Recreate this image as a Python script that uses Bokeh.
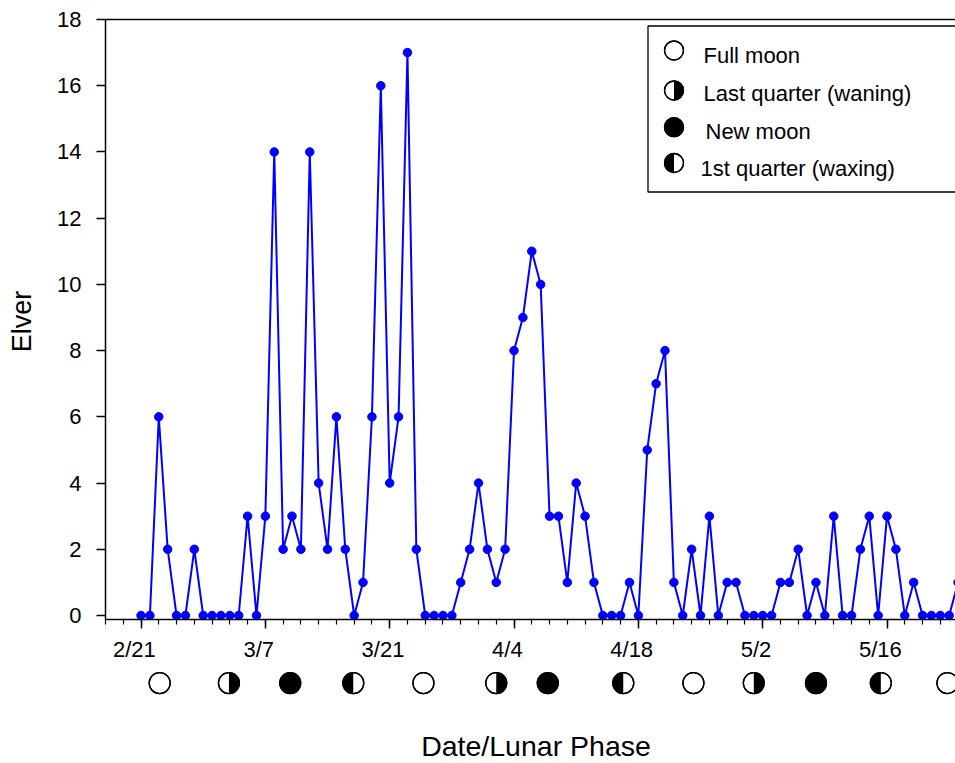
from bokeh.plotting import figure
from bokeh.models import Range1d, LinearAxis, FixedTicker, Label
from bokeh.core.properties import value
from bokeh.embed import file_html
from bokeh.resources import INLINE
import math

# daily elver counts, first value is 2/21
elver = [0, 0, 6, 2, 0, 0, 2, 0, 0, 0,
         0, 0, 3, 0, 3, 14, 2, 3, 2, 14,
         4, 2, 6, 2, 0, 1, 6, 16, 4, 6,
         17, 2, 0, 0, 0, 0, 1, 2, 4, 2,
         1, 2, 8, 9, 11, 10, 3, 3, 1, 4,
         3, 1, 0, 0, 0, 1, 0, 5, 7, 8,
         1, 0, 2, 0, 3, 0, 1, 1, 0, 0,
         0, 0, 1, 1, 2, 0, 1, 0, 3, 0,
         0, 2, 3, 0, 3, 2, 0, 1, 0, 0,
         0, 0, 1]
day = list(range(len(elver)))  # days since 2/21

date_ticks = [0, 14, 28, 42, 56, 70, 84]
date_labels = ["2/21", "3/7", "3/21", "4/4", "4/18", "5/2", "5/16"]

# lunar phases (days since 2/21)
moon_day = [2.1, 9.9, 16.8, 23.9, 31.8, 40.0, 45.8, 54.3, 62.2, 69.0, 76.0, 83.3, 90.8]
moon_phase = ["full", "last", "new", "first", "full", "last", "new", "first",
              "full", "last", "new", "first", "full"]

legend_phase = ["full", "last", "new", "first"]
legend_label = ["Full moon", "Last quarter (waning)", "New moon", "1st quarter (waxing)"]

FONT = "Liberation Sans"
W, H = 955, 763
AXIS_X, TOP = 105, 19        # pixel position of the y axis and of the top line
X0, X1 = -4, 91.71           # day range of the plotted area
Y_TOP, Y_ZERO_PX = 18, 615   # top of y axis, pixel row of zero
PX_PER_DAY = (W - AXIS_X) / (X1 - X0)
PX_PER_UNIT = (Y_ZERO_PX - TOP) / Y_TOP
Y_AXIS_AT = -0.12            # x axis sits just under zero
MOON_ROW = -2.04
LABEL_SHIFT = 0.75           # date labels sit a little left of their ticks

# frame covers the whole canvas so the axes can be placed inside it
p = figure(width=W, height=H, output_backend="svg", toolbar_location=None,
           x_range=Range1d(X0 - AXIS_X / PX_PER_DAY, X1),
           y_range=Range1d(-(H - Y_ZERO_PX) / PX_PER_UNIT, Y_TOP + TOP / PX_PER_UNIT),
           x_axis_location=None, y_axis_location=None,
           min_border_left=0, min_border_top=0, min_border_right=0, min_border_bottom=0)
p.extra_x_ranges = {"px": Range1d(-AXIS_X, W - AXIS_X)}
p.extra_y_ranges = {"px": Range1d(H - TOP, -TOP)}
p.grid.visible = False
p.outline_line_color = None

# y axis
ya = LinearAxis(fixed_location=X0)
ya.bounds = (Y_AXIS_AT, Y_TOP)
ya.ticker = FixedTicker(ticks=list(range(0, 19, 2)), minor_ticks=[])
ya.major_label_text_font = FONT
ya.major_label_text_font_size = "22px"
ya.major_label_text_color = "black"
ya.major_label_standoff = 15
ya.major_tick_out = 9
ya.major_tick_in = 0
ya.minor_tick_line_color = None
ya.axis_line_width = 1.5
ya.major_tick_line_width = 1.5
p.add_layout(ya, "left")

# x axis line and ticks
xa = LinearAxis(fixed_location=Y_AXIS_AT)
xa.bounds = (X0, X1)
xa.ticker = FixedTicker(ticks=date_ticks, minor_ticks=list(range(-4, 92, 2)))
xa.major_label_text_color = None
xa.major_tick_out = 9
xa.major_tick_in = 0
xa.minor_tick_out = 5
xa.minor_tick_in = 0
xa.axis_line_width = 1.5
xa.major_tick_line_width = 1.5
xa.minor_tick_line_width = 1.2
p.add_layout(xa, "below")

# date labels
label_pos = [t - LABEL_SHIFT for t in date_ticks]
xl = LinearAxis(fixed_location=Y_AXIS_AT)
xl.bounds = (X0, X1)
xl.ticker = FixedTicker(ticks=label_pos, minor_ticks=[])
xl.major_label_overrides = dict(zip(label_pos, date_labels))
xl.axis_line_color = None
xl.major_tick_line_color = None
xl.minor_tick_line_color = None
xl.major_tick_out = 9
xl.major_tick_in = 0
xl.minor_tick_out = 0
xl.major_label_text_font = FONT
xl.major_label_text_font_size = "22px"
xl.major_label_text_color = "black"
xl.major_label_standoff = 9
p.add_layout(xl, "below")

# top border line
xt = LinearAxis(fixed_location=Y_TOP)
xt.bounds = (X0, X1 + 2)
xt.ticker = FixedTicker(ticks=[], minor_ticks=[])
xt.major_label_text_color = None
xt.major_tick_line_color = None
xt.minor_tick_line_color = None
xt.axis_line_width = 1.5
p.add_layout(xt, "above")

# axis titles (screen units are measured from the frame's bottom-left)
p.add_layout(Label(x=21, y=H - 321, x_units="screen", y_units="screen", text="Elver",
                   angle=math.pi / 2, text_font=FONT, text_font_size="27px",
                   text_color="black", text_align="center", text_baseline="middle"))
p.add_layout(Label(x=535.5, y=H - 745, x_units="screen", y_units="screen",
                   text="Date/Lunar Phase", text_font=FONT, text_font_size="28.5px",
                   text_color="black", text_align="center", text_baseline="middle"))

# data
p.line(day, elver, line_color="#0000ff", line_width=2)
p.scatter(day, elver, size=8.5, fill_color="#0000ff", line_color="#0000ff")


def draw_moons(xs, ys, phases, r, **rng):
    fills = ["black" if ph == "new" else "white" for ph in phases]
    p.scatter(xs, ys, size=2 * r, marker="circle", fill_color=fills,
              line_color="black", line_width=1.3, **rng)
    for ph, a0, a1 in (("last", -math.pi / 2, math.pi / 2),
                       ("first", math.pi / 2, 3 * math.pi / 2)):
        wx = [x for x, q in zip(xs, phases) if q == ph]
        wy = [y for y, q in zip(ys, phases) if q == ph]
        p.wedge(wx, wy, radius=r, radius_units="screen", start_angle=a0,
                end_angle=a1, fill_color="black", line_color=None, **rng)
    p.scatter(xs, ys, size=2 * r, marker="circle", fill_color=None,
              line_color="black", line_width=1.3, **rng)


draw_moons(moon_day, [MOON_ROW] * len(moon_day), moon_phase, 10.5)

# legend box, drawn in pixels from the axes corner
p.quad(left=542.5, right=900, top=6.5, bottom=172.5, fill_color="white",
       line_color="black", line_width=1.3, x_range_name="px", y_range_name="px")
sym_y = [31, 71, 107.7, 143.5]
draw_moons([568.5] * 4, sym_y, legend_phase, 9.5, x_range_name="px", y_range_name="px")
p.text(x=[598, 598, 600, 595], y=[36, 74, 112, 149], text=legend_label,
       text_font=value(FONT), text_font_size="22px", text_baseline="middle",
       text_color="black", x_range_name="px", y_range_name="px")

open("out.html", "w").write(file_html(p, INLINE))
